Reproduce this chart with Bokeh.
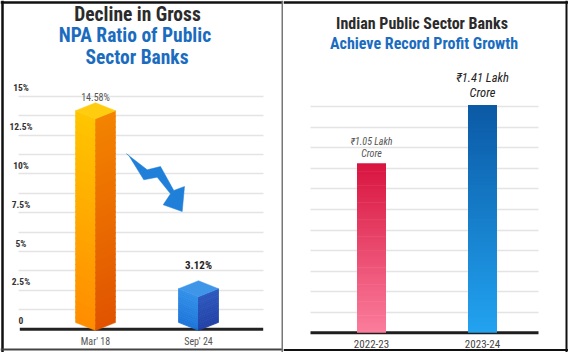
from bokeh.plotting import figure
from bokeh.models import Range1d, Label, Grid, FixedTicker, Span
from bokeh.layouts import row
from bokeh.embed import file_html
from bokeh.resources import INLINE

# ---------------- data ----------------
npa_periods = ["Mar' 18", "Sep' 24"]
npa_ratio = [14.58, 3.12]
npa_value_labels = ["14.58%", "3.12%"]
npa_tick_values = [0, 2.5, 5, 7.5, 10, 12.5, 15]
npa_tick_labels = ["0", "2.5%", "5%", "7.5%", "10%", "12.5%", "15%"]
npa_grid_values = [1.25, 2.5, 3.75, 5, 6.25, 7.5, 8.75, 10, 11.25, 12.5, 13.75, 15]

profit_years = ["2022-23", "2023-24"]
profit_lakh_crore = [1.05, 1.41]
profit_value_labels = ["₹1.05 Lakh", "₹1.41 Lakh"]
profit_unit_label = "Crore"
profit_grid_values = [0.127, 0.255, 0.382, 0.509, 0.636, 0.764, 0.891, 1.018, 1.145, 1.273, 1.4]

# ---------------- styling / layout constants ----------------
FONT = "Roboto Condensed, Liberation Sans Narrow, Roboto"
H = 352
WL, WR = 283, 285
DARK = "#2b2b2b"
BLUE = "#1b6cbf"


def hex2rgb(h):
    h = h.lstrip("#")
    return tuple(int(h[i:i + 2], 16) for i in (0, 2, 4))


def mix(c1, c2, t):
    a, b = hex2rgb(c1), hex2rgb(c2)
    return "#%02x%02x%02x" % tuple(round(a[i] + (b[i] - a[i]) * t) for i in range(3))


def add_label(p, x, y, text, size, color, style="normal", align="center"):
    p.add_layout(Label(x=x, y=y, text=text, text_font=FONT, text_font_size=f"{size}px",
                       text_color=color, text_font_style=style, text_align=align,
                       text_baseline="middle"))


# ================= LEFT PANEL =================
LX0, LXS = 95.0, 103.0          # px of first category centre, px per category
LY0, LYS = 328.7, 233.0 / 15    # px of zero, px per percentage point


def lxd(px):
    return (px - LX0) / LXS


def lyd(py):
    return (LY0 - py) / LYS


left = figure(width=WL, height=H, x_range=Range1d(lxd(0), lxd(WL)), y_range=Range1d(lyd(H), lyd(0)),
              x_axis_type=None, y_axis_type=None, toolbar_location=None, output_backend="svg",
              min_border=0, outline_line_color=None, background_fill_color="white",
              border_fill_color="white")

lgrid = Grid(dimension=1, ticker=FixedTicker(ticks=npa_grid_values), grid_line_color="#e4e4e4",
             grid_line_width=1.5)
try:
    lgrid.cross_bounds = (lxd(18.3), lxd(263.3))
except Exception:
    pass
left.add_layout(lgrid, "center")

# baseline
left.segment(x0=[lxd(19.3)], y0=[0], x1=[lxd(262.7)], y1=[0], line_color="#222222", line_width=3)

# 3D bars
HW = 20.0 / LXS
DEP = 8.0 / LYS
BOT = lyd(330.0)
bar_styles = [
    dict(lt="#ffc600", lb="#ff8c00", rt="#f48400", rb="#e05300", tl="#ffdc1a", tr="#ffb400"),
    dict(lt="#2f8fe8", lb="#1a72d8", rt="#2a56bd", rb="#1f3ea5", tl="#4aa0ee", tr="#2f86e0"),
]


def face(xl, xr, yl_top, yl_bot, yr_top, yr_bot, c_top, c_bot, n=40):
    xs, ys, cs = [], [], []
    for k in range(n):
        t0, t1 = k / n, min(1.0, (k + 1.15) / n)
        xs.append([xl, xr, xr, xl])
        ys.append([yl_top + (yl_bot - yl_top) * t0, yr_top + (yr_bot - yr_top) * t0,
                   yr_top + (yr_bot - yr_top) * t1, yl_top + (yl_bot - yl_top) * t1])
        cs.append(mix(c_top, c_bot, (k + 0.5) / n))
    return xs, ys, cs


for i, (v, st) in enumerate(zip(npa_ratio, bar_styles)):
    xc = i
    xs, ys, cs = face(xc - HW, xc, v - DEP, BOT + DEP, v - 2 * DEP, BOT, st["lt"], st["lb"])
    left.patches(xs=xs, ys=ys, fill_color=cs, line_color=cs, line_width=0.5)
    xs, ys, cs = face(xc, xc + HW, v - 2 * DEP, BOT, v - DEP, BOT + DEP, st["rt"], st["rb"])
    left.patches(xs=xs, ys=ys, fill_color=cs, line_color=cs, line_width=0.5)
    left.patch(x=[xc, xc + HW, xc, xc - HW], y=[v, v - DEP, v - 2 * DEP, v - DEP],
               fill_color=mix(st["tl"], st["tr"], 0.4), line_color=mix(st["tl"], st["tr"], 0.4),
               line_width=0.5)

# value labels
add_label(left, 0, npa_ratio[0] + 5.0 / LYS, npa_value_labels[0], 10, "#555555")
add_label(left, 1, npa_ratio[1] + 15.0 / LYS, npa_value_labels[1], 11, "#222222", "bold")

# y tick labels
for tv, tl in zip(npa_tick_values, npa_tick_labels):
    add_label(left, lxd(20.5), tv + 8.5 / LYS, tl, 9.5, "#333333", "bold")

# x labels
for i, lab in enumerate(npa_periods):
    add_label(left, i, lyd(341), lab, 10, "#555555")

# decorative down arrow (screen px shape)
ARROW_PX = [(126, 153.3), (146.7, 169.3), (160, 166), (173.3, 190), (184, 186), (181.7, 211),
            (162.7, 204.3), (170, 193.3), (156.7, 176.7), (143.3, 179.3), (128.3, 155)]
left.patch(x=[lxd(a) for a, b in ARROW_PX], y=[lyd(b) for a, b in ARROW_PX],
           fill_color="#1f7fd9", line_color="#1f7fd9", line_width=0.5)

# titles
add_label(left, lxd(137), lyd(13.5), "Decline in Gross", 19.5, DARK, "bold")
add_label(left, lxd(134.5), lyd(35), "NPA Ratio of Public", 19.5, BLUE, "bold")
add_label(left, lxd(136.5), lyd(56.7), "Sector Banks", 19.5, BLUE, "bold")

# panel border
left.add_layout(Span(location=lxd(2), dimension="height", line_color="#111111", line_width=2.5))
left.add_layout(Span(location=lyd(2), dimension="width", line_color="#111111", line_width=2.5))
left.add_layout(Span(location=lyd(349), dimension="width", line_color="#444444", line_width=2))
left.add_layout(Span(location=lxd(282), dimension="height", line_color="#777777", line_width=2))

# ================= RIGHT PANEL =================
RX0, RXS, ROFF = 371.0, 111.0, 283.0   # abs px of first category, px per category, panel offset
RY0, RYS = 332.3, 161.5                # px of zero, px per lakh crore


def rxd(px):
    return (px - RX0) / RXS


def ryd(py):
    return (RY0 - py) / RYS


right = figure(width=WR, height=H, x_range=Range1d(rxd(ROFF), rxd(ROFF + WR)),
               y_range=Range1d(ryd(H), ryd(0)), x_axis_type=None, y_axis_type=None,
               toolbar_location=None, output_backend="svg", min_border=0, outline_line_color=None,
               background_fill_color="white", border_fill_color="white")

rgrid = Grid(dimension=1, ticker=FixedTicker(ticks=profit_grid_values), grid_line_color="#e4e4e4",
             grid_line_width=1.5)
try:
    rgrid.cross_bounds = (rxd(310), rxd(538))
except Exception:
    pass
right.add_layout(rgrid, "center")

right.segment(x0=[rxd(310)], y0=[0], x1=[rxd(538)], y1=[0], line_color="#1e1e1e", line_width=3)

BW = 29.0 / RXS
grad = [("#d8143f", "#fb7d9c"), ("#0b59a5", "#22a3f0")]
N = 60
for i, (v, (ct, cb)) in enumerate(zip(profit_lakh_crore, grad)):
    bottoms = [v * k / N for k in range(N)]
    tops = [min(v, v * (k + 1.2) / N) for k in range(N)]
    cols = [mix(cb, ct, (k + 0.5) / N) for k in range(N)]
    right.quad(left=[i - BW / 2] * N, right=[i + BW / 2] * N, bottom=bottoms, top=tops,
               fill_color=cols, line_color=None)

add_label(right, 0, profit_lakh_crore[0] + 21.6 / RYS, profit_value_labels[0], 10, "#555555", "italic")
add_label(right, 0, profit_lakh_crore[0] + 10.0 / RYS, profit_unit_label, 10, "#555555", "italic")
add_label(right, 1, profit_lakh_crore[1] + 27.7 / RYS, profit_value_labels[1], 12.5, "#222222", "italic")
add_label(right, 1, profit_lakh_crore[1] + 12.7 / RYS, profit_unit_label, 12.5, "#222222", "italic")

for i, lab in enumerate(profit_years):
    add_label(right, i, ryd(343.3), lab, 11, "#444444")

add_label(right, rxd(421.5), ryd(23.3), "Indian Public Sector Banks", 16, DARK, "bold")
add_label(right, rxd(423.5), ryd(42.7), "Achieve Record Profit Growth", 16, BLUE, "bold")

right.add_layout(Span(location=ryd(2), dimension="width", line_color="#111111", line_width=2.5))
right.add_layout(Span(location=ryd(349.5), dimension="width", line_color="#111111", line_width=2))
right.add_layout(Span(location=rxd(566), dimension="height", line_color="#111111", line_width=2))

layout = row(left, right, spacing=0)
open("out.html", "w").write(file_html(layout, INLINE))
